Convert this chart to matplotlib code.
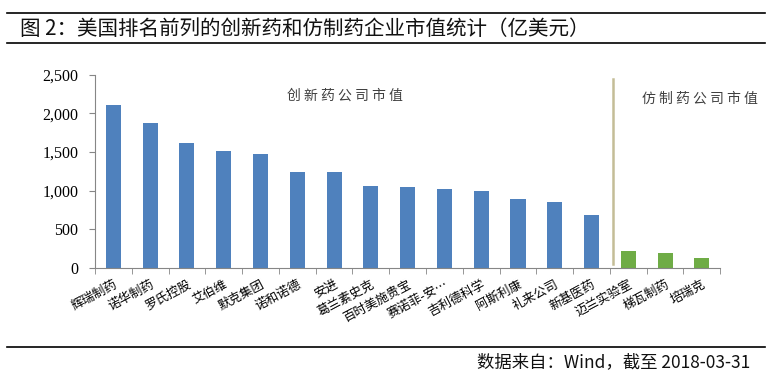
import numpy as np
import matplotlib.pyplot as plt

plt.rcParams['font.family'] = ['Noto Sans CJK SC', 'DejaVu Sans']

companies = ['辉瑞制药', '诺华制药', '罗氏控股', '艾伯维', '默克集团', '诺和诺德', '安进',
             '葛兰素史克', '百时美施贵宝', '赛诺菲-安…', '吉利德科学', '阿斯利康', '礼来公司',
             '新基医药', '迈兰实验室', '梯瓦制药', '培瑞克']
market_cap = [2115, 1880, 1620, 1512, 1478, 1242, 1242, 1060, 1045, 1018, 996, 896, 858,
              682, 220, 194, 128]
n_innovative = 14
yticks = [0, 500, 1000, 1500, 2000, 2500]

BLUE = '#4F81BD'
GREEN = '#6FAC46'
AXIS = '#868686'

fig = plt.figure(figsize=(7.72, 3.78), dpi=100)
ax = fig.add_axes([0.123, 0.291, 0.81, 0.511])

x = np.arange(len(companies))
colors = [BLUE if i < n_innovative else GREEN for i in range(len(companies))]
ax.bar(x, market_cap, width=0.41, color=colors, zorder=2)

ax.set_xlim(-0.5, len(companies) - 0.5)
ax.set_ylim(0, 2500)
ax.set_yticks(yticks)
ax.set_yticklabels([f'{v:,}' for v in yticks], family='Liberation Serif', fontsize=11.5)

ax.set_xticks(x)
ax.set_xticklabels(companies, rotation=28, ha='right', rotation_mode='anchor', fontsize=9)
ax.set_xticks(np.arange(-0.5, len(companies)), minor=True)
ax.tick_params(axis='x', which='major', length=0, pad=7)
ax.tick_params(axis='x', which='minor', length=4, color=AXIS, direction='out')
ax.tick_params(axis='y', length=4, color=AXIS, direction='out', pad=8)

for s in ['top', 'right']:
    ax.spines[s].set_visible(False)
for s in ['left', 'bottom']:
    ax.spines[s].set_color(AXIS)

# divider between innovative and generic drug companies
ax.plot([n_innovative - 0.41, n_innovative - 0.41], [50, 2445], color='#C4BD97', lw=1.8,
        clip_on=False, zorder=3)
ax.text(6.3, 2230, '创 新 药 公 司 市 值', fontsize=10, color='#404040', ha='center', va='center')
ax.text(15.95, 2190, '仿 制 药 公 司 市 值', fontsize=10, color='#404040', ha='center', va='center')

# title band
fig.add_artist(plt.Line2D([0.009, 0.991], [1 - 13 / 378, 1 - 13 / 378], color='black', lw=1.2))
fig.add_artist(plt.Line2D([0.009, 0.991], [1 - 43 / 378, 1 - 43 / 378], color='black', lw=1.2))
fig.text(0.026, 1 - 29 / 378, '图 2：美国排名前列的创新药和仿制药企业市值统计（亿美元）',
         fontsize=14.8, va='center', ha='left', color='#111111')

# source band
fig.add_artist(plt.Line2D([0.009, 0.991], [1 - 347 / 378, 1 - 347 / 378], color='black', lw=1.2))
fig.text(0.972, 1 - 362 / 378, '数据来自：Wind，截至 2018-03-31', fontsize=12.5,
         va='center', ha='right', color='#111111')

fig.savefig('out.png', dpi=100)
